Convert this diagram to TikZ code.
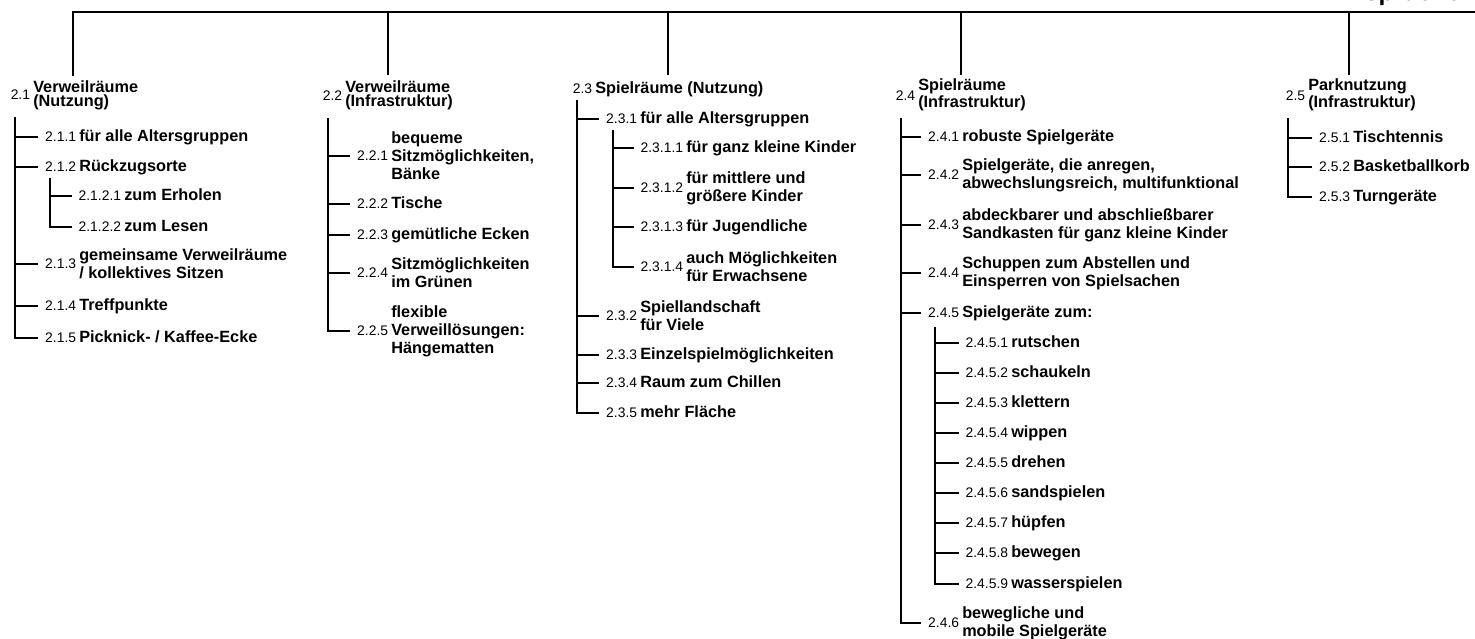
\documentclass[tikz,border=0pt]{standalone}
\usepackage{fontspec}
\setmainfont{Liberation Sans}
\usetikzlibrary{positioning}
\newcommand{\lblfont}{\fontsize{12.2pt}{13.6pt}\selectfont\bfseries}
\newcommand{\ttlfont}{\fontsize{12.2pt}{10.4pt}\selectfont\bfseries}
\newcommand{\numfont}{\fontsize{10.4pt}{12pt}\selectfont}
\newcommand{\rootfont}{\fontsize{18.5pt}{20pt}\selectfont\bfseries}
\begin{document}
\begin{tikzpicture}[x=0.75pt,y=-0.75pt,
  every node/.append style={inner sep=0pt},
  one/.style={font=\lblfont, anchor=west, text height=1.5ex, text depth=0.25ex},
  two/.style={font=\lblfont, anchor=west, align=left},
  ttl/.style={font=\ttlfont, anchor=west, align=left},
  num/.style={font=\numfont, text height=1.5ex, text depth=0.25ex},
  trunk/.style={line width=1.1pt},
  tick/.style={line width=1pt, shorten >=5pt}]
\useasboundingbox (0,0) rectangle (1475,639);
\clip (0,0) rectangle (1475,639);
\node[font=\rootfont, anchor=base east] (root) at (1461,0.8) {Ansprüche};
\coordinate (top) at (1475,12);
\coordinate (d21) at (73,76);
\coordinate (d22) at (388,75);
\coordinate (d23) at (668,75);
\coordinate (d24) at (961,75);
\coordinate (d25) at (1349,75);
\draw[trunk] (d21) |- (top);
\draw[trunk] (d22) -- (d22 |- top);
\draw[trunk] (d23) -- (d23 |- top);
\draw[trunk] (d24) -- (d24 |- top);
\draw[trunk] (d25) -- (d25 |- top);

\node[ttl] (t21) at (33,95) {Verweilräume\\(Nutzung)};
\node[num, left=2pt of t21] (n21) {2.1};
\node[one] (t211) at (79,137) {für alle Altersgruppen};
\node[num, left=2pt of t211] (n211) {2.1.1};
\node[one] (t212) at (79,167) {Rückzugsorte};
\node[num, left=2pt of t212] (n212) {2.1.2};
\node[one] (t2121) at (124,196) {zum Erholen};
\node[num, left=2pt of t2121] (n2121) {2.1.2.1};
\node[one] (t2122) at (124,227) {zum Lesen};
\node[num, left=2pt of t2122] (n2122) {2.1.2.2};
\node[two] (t213) at (79,264) {gemeinsame Verweilräume\\/ kollektives Sitzen};
\node[num, left=2pt of t213] (n213) {2.1.3};
\node[one] (t214) at (79,306) {Treffpunkte};
\node[num, left=2pt of t214] (n214) {2.1.4};
\node[one] (t215) at (79,338) {Picknick- / Kaffee-Ecke};
\node[num, left=2pt of t215] (n215) {2.1.5};
\coordinate (s21) at (15,117);
\coordinate (s212) at (50,178);
\draw[tick] (s21 |- n211.west) -- (n211.west);
\draw[tick] (s21 |- n212.west) -- (n212.west);
\draw[tick] (s21 |- n213.west) -- (n213.west);
\draw[tick] (s21 |- n214.west) -- (n214.west);
\draw[tick] (s21) |- (n215.west);
\draw[tick] (s212 |- n2121.west) -- (n2121.west);
\draw[tick] (s212) |- (n2122.west);

\node[ttl] (t22) at (345,95) {Verweilräume\\(Infrastruktur)};
\node[num, left=2pt of t22, yshift=-1pt] (n22) {2.2};
\node[two] (t221) at (391,156) {bequeme\\Sitzmöglichkeiten,\\Bänke};
\node[num, left=2pt of t221] (n221) {2.2.1};
\node[one] (t222) at (391,204) {Tische};
\node[num, left=2pt of t222] (n222) {2.2.2};
\node[one] (t223) at (391,235) {gemütliche Ecken};
\node[num, left=2pt of t223] (n223) {2.2.3};
\node[two] (t224) at (391,273) {Sitzmöglichkeiten\\im Grünen};
\node[num, left=2pt of t224] (n224) {2.2.4};
\node[two] (t225) at (391,331) {flexible\\Verweillösungen:\\Hängematten};
\node[num, left=2pt of t225] (n225) {2.2.5};
\coordinate (s22) at (328,118);
\draw[tick] (s22 |- n221.west) -- (n221.west);
\draw[tick] (s22 |- n222.west) -- (n222.west);
\draw[tick] (s22 |- n223.west) -- (n223.west);
\draw[tick] (s22 |- n224.west) -- (n224.west);
\draw[tick] (s22) |- (n225.west);

\node[one] (t23) at (595,89) {Spielräume (Nutzung)};
\node[num, left=2pt of t23] (n23) {2.3};
\node[one] (t231) at (640,119) {für alle Altersgruppen};
\node[num, left=2pt of t231] (n231) {2.3.1};
\node[one] (t2311) at (686,148) {für ganz kleine Kinder};
\node[num, left=2pt of t2311] (n2311) {2.3.1.1};
\node[two] (t2312) at (686,188) {für mittlere und\\größere Kinder};
\node[num, left=2pt of t2312] (n2312) {2.3.1.2};
\node[one] (t2313) at (686,227) {für Jugendliche};
\node[num, left=2pt of t2313] (n2313) {2.3.1.3};
\node[two] (t2314) at (686,267) {auch Möglichkeiten\\für Erwachsene};
\node[num, left=2pt of t2314] (n2314) {2.3.1.4};
\node[two] (t232) at (640,316) {Spiellandschaft\\für Viele};
\node[num, left=2pt of t232] (n232) {2.3.2};
\node[one] (t233) at (640,355) {Einzelspielmöglichkeiten};
\node[num, left=2pt of t233] (n233) {2.3.3};
\node[one] (t234) at (640,383) {Raum zum Chillen};
\node[num, left=2pt of t234] (n234) {2.3.4};
\node[one] (t235) at (640,413) {mehr Fläche};
\node[num, left=2pt of t235] (n235) {2.3.5};
\coordinate (s23) at (577,100);
\coordinate (s231) at (613,130);
\draw[tick] (s23 |- n231.west) -- (n231.west);
\draw[tick] (s23 |- n232.west) -- (n232.west);
\draw[tick] (s23 |- n233.west) -- (n233.west);
\draw[tick] (s23 |- n234.west) -- (n234.west);
\draw[tick] (s23) |- (n235.west);
\draw[tick] (s231 |- n2311.west) -- (n2311.west);
\draw[tick] (s231 |- n2312.west) -- (n2312.west);
\draw[tick] (s231 |- n2313.west) -- (n2313.west);
\draw[tick] (s231) |- (n2314.west);

\node[ttl] (t24) at (918,95) {Spielräume\\(Infrastruktur)};
\node[num, left=2pt of t24, yshift=-1pt] (n24) {2.4};
\node[one] (t241) at (962,137) {robuste Spielgeräte};
\node[num, left=2pt of t241] (n241) {2.4.1};
\node[two] (t242) at (962,175) {Spielgeräte, die anregen,\\abwechslungsreich, multifunktional};
\node[num, left=2pt of t242] (n242) {2.4.2};
\node[two] (t243) at (962,225) {abdeckbarer und abschließbarer\\Sandkasten für ganz kleine Kinder};
\node[num, left=2pt of t243] (n243) {2.4.3};
\node[two] (t244) at (962,273) {Schuppen zum Abstellen und\\Einsperren von Spielsachen};
\node[num, left=2pt of t244] (n244) {2.4.4};
\node[one] (t245) at (962,313) {Spielgeräte zum:};
\node[num, left=2pt of t245] (n245) {2.4.5};
\node[one] (t2451) at (1011,343) {rutschen};
\node[num, left=2pt of t2451] (n2451) {2.4.5.1};
\node[one] (t2452) at (1011,373) {schaukeln};
\node[num, left=2pt of t2452] (n2452) {2.4.5.2};
\node[one] (t2453) at (1011,403) {klettern};
\node[num, left=2pt of t2453] (n2453) {2.4.5.3};
\node[one] (t2454) at (1011,433) {wippen};
\node[num, left=2pt of t2454] (n2454) {2.4.5.4};
\node[one] (t2455) at (1011,463) {drehen};
\node[num, left=2pt of t2455] (n2455) {2.4.5.5};
\node[one] (t2456) at (1011,493) {sandspielen};
\node[num, left=2pt of t2456] (n2456) {2.4.5.6};
\node[one] (t2457) at (1011,523) {hüpfen};
\node[num, left=2pt of t2457] (n2457) {2.4.5.7};
\node[one] (t2458) at (1011,553) {bewegen};
\node[num, left=2pt of t2458] (n2458) {2.4.5.8};
\node[one] (t2459) at (1011,584) {wasserspielen};
\node[num, left=2pt of t2459] (n2459) {2.4.5.9};
\node[two] (t246) at (962,623) {bewegliche und\\mobile Spielgeräte};
\node[num, left=2pt of t246] (n246) {2.4.6};
\coordinate (s24) at (901,118);
\coordinate (s245) at (935,327);
\draw[tick] (s24 |- n241.west) -- (n241.west);
\draw[tick] (s24 |- n242.west) -- (n242.west);
\draw[tick] (s24 |- n243.west) -- (n243.west);
\draw[tick] (s24 |- n244.west) -- (n244.west);
\draw[tick] (s24 |- n245.west) -- (n245.west);
\draw[tick] (s24) |- (n246.west);
\draw[tick] (s245 |- n2451.west) -- (n2451.west);
\draw[tick] (s245 |- n2452.west) -- (n2452.west);
\draw[tick] (s245 |- n2453.west) -- (n2453.west);
\draw[tick] (s245 |- n2454.west) -- (n2454.west);
\draw[tick] (s245 |- n2455.west) -- (n2455.west);
\draw[tick] (s245 |- n2456.west) -- (n2456.west);
\draw[tick] (s245 |- n2457.west) -- (n2457.west);
\draw[tick] (s245 |- n2458.west) -- (n2458.west);
\draw[tick] (s245) |- (n2459.west);

\node[ttl] (t25) at (1308,95) {Parknutzung\\(Infrastruktur)};
\node[num, left=2pt of t25, yshift=-1pt] (n25) {2.5};
\node[one] (t251) at (1353,138) {Tischtennis};
\node[num, left=2pt of t251] (n251) {2.5.1};
\node[one] (t252) at (1353,167) {Basketballkorb};
\node[num, left=2pt of t252] (n252) {2.5.2};
\node[one] (t253) at (1353,197) {Turngeräte};
\node[num, left=2pt of t253] (n253) {2.5.3};
\coordinate (s25) at (1288,118);
\draw[tick] (s25 |- n251.west) -- (n251.west);
\draw[tick] (s25 |- n252.west) -- (n252.west);
\draw[tick] (s25) |- (n253.west);
\end{tikzpicture}
\end{document}
